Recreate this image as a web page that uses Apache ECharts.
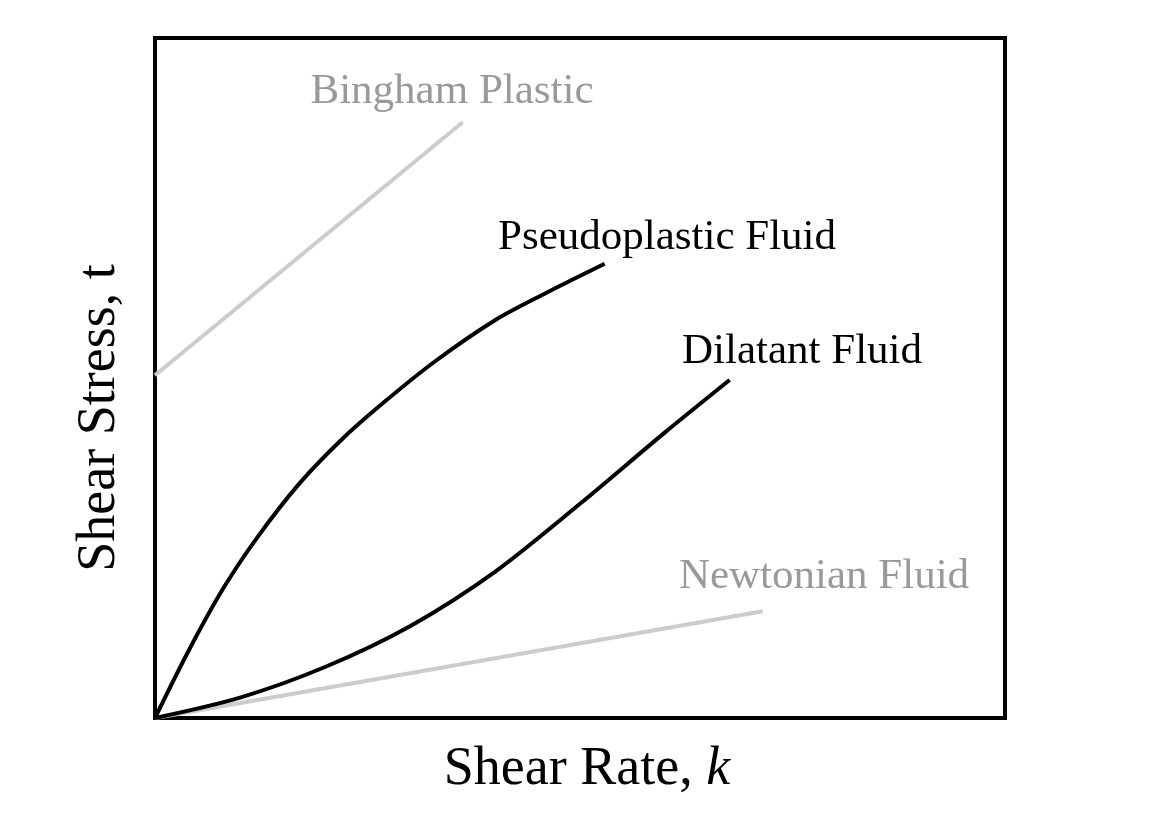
<!DOCTYPE html><html><head><meta charset="utf-8">
<script src="https://cdn.jsdelivr.net/npm/echarts@6/dist/echarts.min.js"></script>
<style>html,body{margin:0;background:#fff}#c{width:1153px;height:828px}</style></head><body><div id="c"></div>
<script>
const bingham=[[0,50.4],[36.2,87.6]];
const newtonian=[[0,0],[71.5,15.7]];
const pseudo=[[0,0],[4,10],[8,19],[12,26.5],[17,34.5],[22,41],[27,46.5],[33,52.5],[40,58.5],[46,62.5],[52.9,66.8]];
const dilatant=[[0,0],[10,3],[20,7.5],[30,13.5],[40,21.5],[50,31.5],[60,42],[67.6,49.7]];
const labels=[["Bingham Plastic",452,92,"#999"],["Pseudoplastic Fluid",667,238,"#000"],["Dilatant Fluid",802,352,"#000"],["Newtonian Fluid",824,577,"#999"]];
const F="Liberation Serif";
const c=echarts.init(document.getElementById('c'));
const ln=(d,col)=>({type:'line',data:d,smooth:d.length>2?0.3:false,symbol:'none',lineStyle:{color:col,width:4},silent:true});
c.setOption({animation:false,
grid:{left:155,top:38,width:850,height:680,show:true,borderColor:'#000',borderWidth:4},
xAxis:{type:'value',min:0,max:100,axisLine:{show:false},axisTick:{show:false},axisLabel:{show:false},splitLine:{show:false}},
yAxis:{type:'value',min:0,max:100,axisLine:{show:false},axisTick:{show:false},axisLabel:{show:false},splitLine:{show:false}},
series:[ln(bingham,'#ccc'),ln(newtonian,'#ccc'),ln(dilatant,'#000'),ln(pseudo,'#000')],
graphic:labels.map(l=>({type:'text',x:l[1],y:l[2],style:{text:l[0],fill:l[3],font:'43px "Liberation Serif"',textAlign:'center',textVerticalAlign:'middle'}})).concat([
 {type:'text',x:587,y:770,style:{text:'Shear Rate, {i|k}',fill:'#000',font:'54px "Liberation Serif"',textAlign:'center',textVerticalAlign:'middle',rich:{i:{fontFamily:F,fontSize:54,fontStyle:'italic'}}}},
 {type:'text',x:100,y:418,rotation:Math.PI/2,style:{text:'Shear Stress, t',fill:'#000',font:'54px "Liberation Serif"',textAlign:'center',textVerticalAlign:'middle'}}
])
});
</script></body></html>
